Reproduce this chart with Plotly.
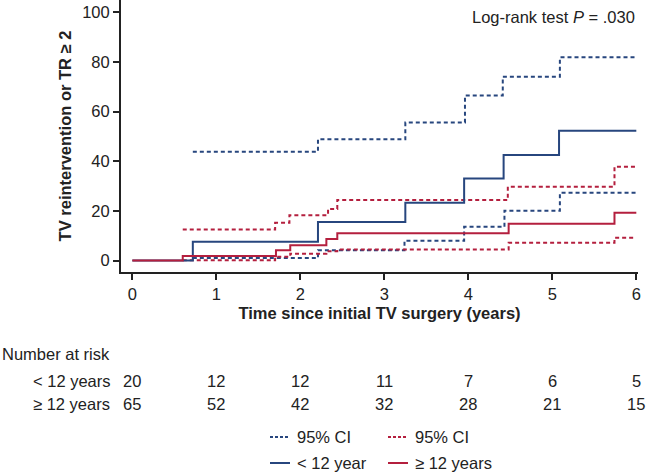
import plotly.graph_objects as go

# ---------------- data ----------------
lt12_t = [0, 0.72, 2.21, 3.25, 3.95, 4.42, 5.08, 6.0]
lt12_v = [0, 7.6, 15.5, 23.3, 33.1, 42.5, 52.3, 52.3]
lt12_hi_t = [0.72, 2.21, 3.25, 3.96, 4.41, 5.09, 6.0]
lt12_hi_v = [43.9, 48.9, 55.6, 66.5, 74.1, 81.9, 81.9]
lt12_lo_t = [0.72, 2.21, 3.24, 3.95, 4.43, 5.09, 6.0]
lt12_lo_v = [1.0, 4.2, 8.0, 13.6, 20.1, 27.3, 27.3]

ge12_t = [0, 0.6, 1.71, 1.88, 2.31, 2.44, 4.48, 5.74, 6.0]
ge12_v = [0, 1.8, 4.2, 6.2, 8.7, 11.0, 14.8, 19.3, 19.3]
ge12_hi_t = [0.6, 1.70, 1.87, 2.33, 2.44, 4.47, 5.74, 6.0]
ge12_hi_v = [12.5, 15.2, 18.3, 20.8, 24.4, 29.8, 37.8, 37.8]
ge12_lo_t = [0.6, 1.70, 1.88, 2.31, 2.44, 4.48, 5.74, 5.98]
ge12_lo_v = [0.1, 1.5, 2.8, 3.8, 4.5, 7.2, 9.2, 9.2]

risk_times = [0, 1, 2, 3, 4, 5, 6]
risk_lt12 = [20, 12, 12, 11, 7, 6, 5]
risk_ge12 = [65, 52, 42, 32, 28, 21, 15]

x_ticks = [0, 1, 2, 3, 4, 5, 6]
y_ticks = [0, 20, 40, 60, 80, 100]

# ---------------- style ----------------
BLUE = "#27467e"
RED = "#b41f3e"
INK = "#222222"
FONT = "Liberation Sans, Arial, sans-serif"
FS = 16.5

W, H = 648, 472
L, R, T, B = 121, 10, 0, 200
PW, PH = W - L - R, H - T - B


def px(xp):
    return (xp - L) / PW


def py(yp):
    return (H - B - yp) / PH


fig = go.Figure()


def step(t, v, color, dash):
    fig.add_trace(go.Scatter(
        x=t, y=v, mode="lines", line_shape="hv",
        line=dict(color=color, width=2, dash=dash),
        showlegend=False, hoverinfo="skip"))


step(lt12_hi_t, lt12_hi_v, BLUE, "4px,3px")
step(lt12_lo_t, lt12_lo_v, BLUE, "4px,3px")
step(ge12_hi_t, ge12_hi_v, RED, "4px,3px")
step(ge12_lo_t, ge12_lo_v, RED, "4px,3px")
step(lt12_t, lt12_v, BLUE, "solid")
step(ge12_t, ge12_v, RED, "solid")

ann = []
# log-rank text
ann.append(dict(xref="paper", yref="paper", x=px(637), y=py(17),
                xanchor="right", yanchor="middle", showarrow=False,
                text="Log-rank test <i>P</i> = .030",
                font=dict(family=FONT, size=FS, color=INK)))

# risk table
ann.append(dict(xref="paper", yref="paper", x=px(0), y=py(354),
                xanchor="left", yanchor="middle", showarrow=False,
                text="Number at risk", font=dict(family=FONT, size=FS, color=INK)))
ann.append(dict(xref="paper", yref="paper", x=px(31), y=py(381),
                xanchor="left", yanchor="middle", showarrow=False,
                text="< 12 years", font=dict(family=FONT, size=FS, color=INK)))
ann.append(dict(xref="paper", yref="paper", x=px(31), y=py(404),
                xanchor="left", yanchor="middle", showarrow=False,
                text="≥ 12 years", font=dict(family=FONT, size=FS, color=INK)))
for t, a, b in zip(risk_times, risk_lt12, risk_ge12):
    ann.append(dict(xref="x", yref="paper", x=t, y=py(381), xanchor="center",
                    yanchor="middle", showarrow=False, text=str(a),
                    font=dict(family=FONT, size=FS, color=INK)))
    ann.append(dict(xref="x", yref="paper", x=t, y=py(404), xanchor="center",
                    yanchor="middle", showarrow=False, text=str(b),
                    font=dict(family=FONT, size=FS, color=INK)))

# manual legend
shapes = []
legend_items = [
    (270, 295, 437, BLUE, "dot", "95% CI"),
    (388, 413, 437, RED, "dot", "95% CI"),
    (270, 295, 463, BLUE, "solid", "< 12 year"),
    (388, 413, 463, RED, "solid", "≥ 12 years"),
]
for x0, tx, yy, col, dash, label in legend_items:
    shapes.append(dict(type="line", xref="paper", yref="paper",
                       x0=px(x0), x1=px(x0 + 20), y0=py(yy), y1=py(yy),
                       line=dict(color=col, width=2,
                                 dash="3px,2px" if dash == "dot" else "solid")))
    ann.append(dict(xref="paper", yref="paper", x=px(tx), y=py(yy),
                    xanchor="left", yanchor="middle", showarrow=False,
                    text=label, font=dict(family=FONT, size=FS, color=INK)))

fig.update_layout(
    width=W, height=H,
    margin=dict(l=L, r=R, t=T, b=B, pad=0),
    paper_bgcolor="white", plot_bgcolor="white",
    font=dict(family=FONT, size=FS, color=INK),
    annotations=ann, shapes=shapes,
    showlegend=False,
)
fig.update_xaxes(
    range=[-0.135, 6.02], tickvals=x_ticks, ticktext=[str(v) for v in x_ticks],
    showline=True, linecolor=INK, linewidth=2, ticks="outside", ticklen=6,
    tickwidth=2, tickcolor=INK, showgrid=False, zeroline=False,
    tickfont=dict(family=FONT, size=FS, color=INK),
    title=dict(text="<b>Time since initial TV surgery (years)</b>",
               font=dict(family=FONT, size=FS, color=INK), standoff=6),
)
fig.update_yaxes(
    range=[-4.6, 105], tickvals=y_ticks, ticktext=[str(v) for v in y_ticks],
    showline=True, linecolor=INK, linewidth=2, ticks="outside", ticklen=6,
    tickwidth=2, tickcolor=INK, showgrid=False, zeroline=False,
    tickfont=dict(family=FONT, size=FS, color=INK),
    title=dict(text="<b>TV reintervention or TR ≥ 2</b>",
               font=dict(family=FONT, size=FS, color=INK), standoff=6),
)

fig.write_html(
    "out.html",
    config={"displayModeBar": False, "staticPlot": True},
    post_script="document.body.style.margin='0';document.body.style.padding='0';"
                "document.body.style.overflow='hidden';",
)
